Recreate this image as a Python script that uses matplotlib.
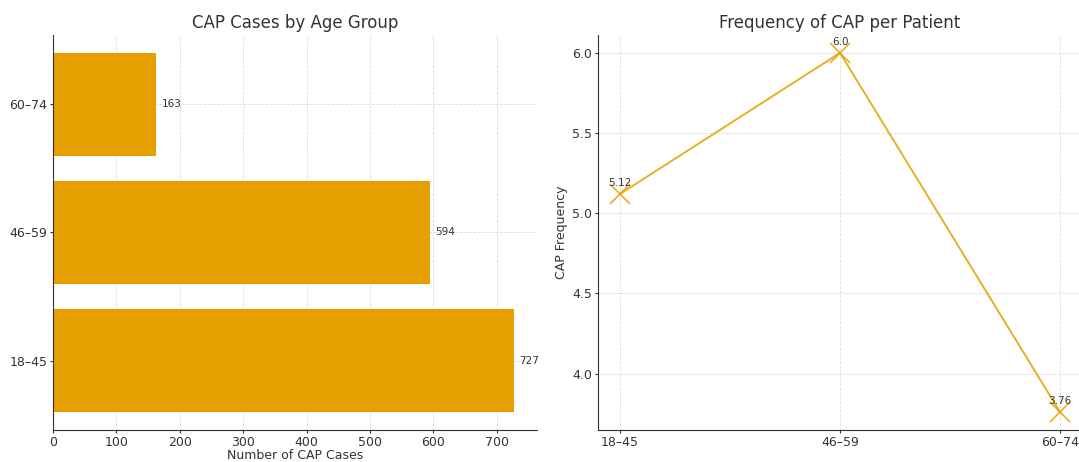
import matplotlib.pyplot as plt

age_groups = ['18–45', '46–59', '60–74']
cap_cases = [727, 594, 163]
cap_freq = [5.12, 6.0, 3.76]

bar_color = '#E69F00'
text_color = '#333333'

plt.rcParams['text.color'] = text_color
plt.rcParams['axes.labelcolor'] = text_color
plt.rcParams['xtick.color'] = text_color
plt.rcParams['ytick.color'] = text_color

fig = plt.figure(figsize=(10.79, 4.62), dpi=100)
ax1 = fig.add_axes([0.0491, 0.0693, 0.4486, 0.855])
ax2 = fig.add_axes([0.5542, 0.0693, 0.4486, 0.855])

# left: horizontal bars
ax1.barh(age_groups, cap_cases, color=bar_color, zorder=2)
for i, v in enumerate(cap_cases):
    ax1.text(v + 8, i, str(v), va='center', fontsize=7.5)
ax1.set_title('CAP Cases by Age Group', fontsize=12, pad=5)
ax1.set_xlabel('Number of CAP Cases', fontsize=9, labelpad=0.5)

# right: line with x markers
ax2.plot(age_groups, cap_freq, color=bar_color, alpha=0.85, marker='x',
         markersize=14, markeredgewidth=1.2, linewidth=1.4, zorder=2)
for i, v in enumerate(cap_freq):
    ax2.annotate(str(v), (i, v), textcoords='offset points', xytext=(0, 4),
                 ha='center', va='bottom', fontsize=7.5)
ax2.set_title('Frequency of CAP per Patient', fontsize=12, pad=5)
ax2.set_ylabel('CAP Frequency', fontsize=9, labelpad=3)

for ax in (ax1, ax2):
    ax.grid(True, linestyle='--', linewidth=0.6, color='#dcdcdc', zorder=0)
    ax.set_axisbelow(True)
    ax.spines['top'].set_visible(False)
    ax.spines['right'].set_visible(False)
    for s in ('left', 'bottom'):
        ax.spines[s].set_color('#333333')
    ax.tick_params(labelsize=9, length=2.5, pad=1.5)

fig.savefig('out.png', dpi=100)
